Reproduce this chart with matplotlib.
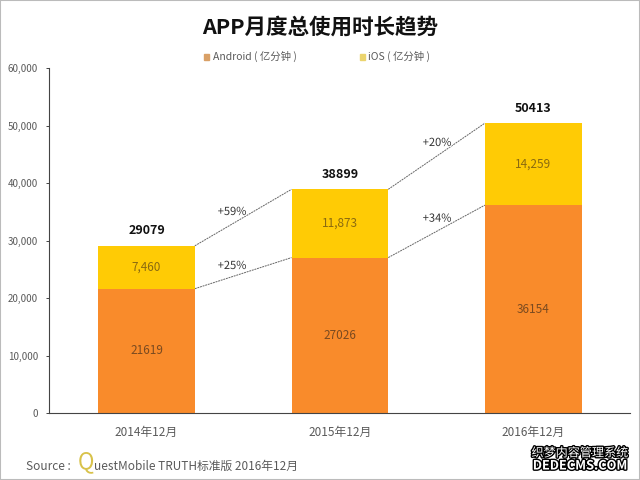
import matplotlib
matplotlib.use('Agg')
import matplotlib.pyplot as plt
import matplotlib.patheffects as pe
from matplotlib.patches import Rectangle

plt.rcParams['font.family'] = ['Noto Sans CJK SC', 'DejaVu Sans']

categories = ['2014年12月', '2015年12月', '2016年12月']
android = [21619, 27026, 36154]
ios = [7460, 11873, 14259]
totals = [29079, 38899, 50413]
android_labels = ['21619', '27026', '36154']
ios_labels = ['7,460', '11,873', '14,259']
total_growth = ['+59%', '+20%']
android_growth = ['+25%', '+34%']
yticks = [0, 10000, 20000, 30000, 40000, 50000, 60000]

ORANGE = '#F98B2B'
YELLOW = '#FFCB05'
GREY = '#5a5a5a'

fig = plt.figure(figsize=(6.4, 4.8), dpi=100)
ax = fig.add_axes([49/640, 1-413/480, 581/640, 345/480])
ax.set_xlim(-0.504, 2.5)
ax.set_ylim(0, 60000)

x = list(range(len(categories)))
w = 0.5
ax.bar(x, android, w, color=ORANGE, label='Android ( 亿分钟 )', zorder=2)
ax.bar(x, ios, w, bottom=android, color=YELLOW, label='iOS ( 亿分钟 )', zorder=2)

for i in x:
    ax.text(i, android[i]/2, android_labels[i], ha='center', va='center', fontsize=8.5, color='#7a4a20', zorder=3)
    ax.text(i, android[i]+ios[i]/2, ios_labels[i], ha='center', va='center', fontsize=8.5, color='#8a6a10', zorder=3)
    ax.text(i, totals[i]+1500, str(totals[i]), ha='center', va='bottom', fontsize=9, fontweight='bold', color='#111111', zorder=3)

for i in range(2):
    ax.plot([i+w/2, i+1-w/2], [totals[i], totals[i+1]], color='#666666', lw=0.7, ls=(0, (2, 0.8)), zorder=1)
    ax.plot([i+w/2, i+1-w/2], [android[i], android[i+1]], color='#666666', lw=0.7, ls=(0, (2, 0.8)), zorder=1)

growth_pos_top = [(0.442, 34957), (1.502, 46957)]
growth_pos_bot = [(0.442, 25565), (1.502, 33791)]
for (px, py), s in zip(growth_pos_top, total_growth):
    ax.text(px, py, s, ha='center', va='center', fontsize=8, color='#333333',
            path_effects=[pe.withStroke(linewidth=1.5, foreground='white')], zorder=3)
for (px, py), s in zip(growth_pos_bot, android_growth):
    ax.text(px, py, s, ha='center', va='center', fontsize=8, color='#333333',
            path_effects=[pe.withStroke(linewidth=1.5, foreground='white')], zorder=3)

for s in ['top', 'right']:
    ax.spines[s].set_visible(False)
for s in ['left', 'bottom']:
    ax.spines[s].set_color('#444444')
    ax.spines[s].set_linewidth(0.8)
ax.set_yticks(yticks)
ax.set_yticklabels([f'{v:,}' for v in yticks], fontsize=7, color=GREY)
ax.tick_params(axis='y', length=2, width=0.7, color='#444444', pad=6)
ax.set_xticks(x)
ax.set_xticklabels(categories, fontsize=8.5, color=GREY)
ax.tick_params(axis='x', length=0, pad=9)

fig.text(320/640, 1-27/480, 'APP月度总使用时长趋势', ha='center', va='center', fontsize=15.5, fontweight='bold', color='#111111')

handles, labels = ax.get_legend_handles_labels()
fig.text(213/640, 1-56.5/480, labels[0], ha='left', va='center', fontsize=7.5, color=GREY)
fig.text(368/640, 1-56.5/480, labels[1], ha='left', va='center', fontsize=7.5, color=GREY)
fig.add_artist(Rectangle((204/640, 1-60/480), 5/640, 6/480, transform=fig.transFigure, color='#D9A066'))
fig.add_artist(Rectangle((360/640, 1-60/480), 5/640, 6/480, transform=fig.transFigure, color='#EBD46E'))

fig.text(26/640, 1-466/480, 'Source :', ha='left', va='center', fontsize=8.5, color=GREY)
fig.text(78/640, 1-462/480, 'Q', ha='left', va='center', fontsize=16, color='#D8C24A')
fig.text(94/640, 1-466/480, 'uestMobile TRUTH标准版 2016年12月', ha='left', va='center', fontsize=8.5, color=GREY)

outline = [pe.withStroke(linewidth=2, foreground='black')]
fig.text(580/640, 1-453/480, '织梦内容管理系统', ha='center', va='center', fontsize=8.7, color='white', path_effects=outline)
fig.text(580/640, 1-466/480, 'DEDECMS.COM', ha='center', va='center', fontsize=9.2, fontweight='bold', color='white', path_effects=outline)

# thin grey frame of the image
fig.add_artist(Rectangle((0, 0), 1, 1, transform=fig.transFigure, fill=False, ec='#bbbbbb', lw=1.5))

fig.savefig('out.png', dpi=100)
